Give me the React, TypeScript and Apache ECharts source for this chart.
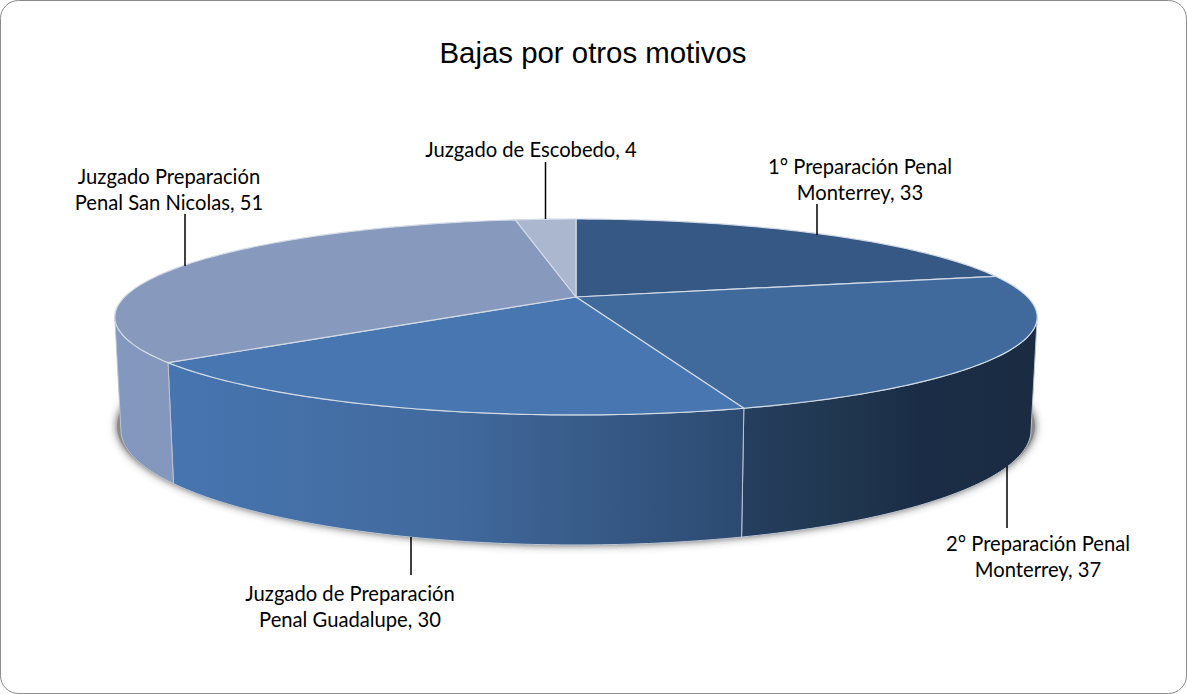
import React, { useEffect, useRef } from "react";
import * as echarts from "echarts";

const categories = [
  "1° Preparación Penal\nMonterrey",
  "2° Preparación Penal\nMonterrey",
  "Juzgado de Preparación\nPenal Guadalupe",
  "Juzgado Preparación\nPenal San Nicolas",
  "Juzgado de Escobedo",
];
const values = [33, 37, 30, 51, 4];
const titleText = "Bajas por otros motivos";

const topColors = ["#355884", "#3f6a9b", "#4776b0", "#879abd", "#abb7cf"];
const sideStops: any[] = [
  null,
  [[0, "#263f5f"], [0.35, "#20364f"], [0.6, "#1b2d46"], [1, "#1a2b42"]],
  [[0, "#4775b0"], [0.5, "#41699d"], [1, "#2c4a70"]],
  [[0, "#8398bf"], [1, "#8497bc"]],
  null,
];
// label centre x, block centre y, leader x, leader y from / to
const labelLayout = [
  { x: 860, y: 179, lx: 817, y1: 204, y2: 235 },
  { x: 1038, y: 556, lx: 1007, y1: 466, y2: 528 },
  { x: 350, y: 606, lx: 411, y1: 537, y2: 575 },
  { x: 169, y: 189, lx: 185, y1: 214, y2: 266 },
  { x: 531, y: 149, lx: 545.5, y1: 162, y2: 219 },
];

const K = 0.204;
const topFace = { cx: 576, cy: 297, a: 451.5, b: 93.9 };
const baseFace = { cx: 576, cy: 406.5, a: 445.5, b: 110.2 };
const project = (f: typeof topFace, deg: number) => {
  const t = (deg * Math.PI) / 180;
  const X = Math.sin(t);
  const Y = -Math.cos(t);
  const w = 1 - K * Y;
  return [f.cx + (f.a * X) / w, f.cy + (f.b * Y) / w];
};
const arc = (f: typeof topFace, from: number, to: number) => {
  const n = Math.max(2, Math.ceil(Math.abs(to - from)));
  const pts: number[][] = [];
  for (let i = 0; i <= n; i++) pts.push(project(f, from + ((to - from) * i) / n));
  return pts;
};
const total = values.reduce((s, v) => s + v, 0);
const startAngle = (i: number) => (values.slice(0, i).reduce((s, v) => s + v, 0) / total) * 360;
const endAngle = (i: number) => (values.slice(0, i + 1).reduce((s, v) => s + v, 0) / total) * 360;
const visFrom = (Math.acos(-K) * 180) / Math.PI;
const visTo = 360 - visFrom;

export default function App() {
  const ref = useRef<HTMLDivElement>(null);
  useEffect(() => {
    document.body.style.margin = "0";
    const chart = echarts.init(ref.current!, null, { renderer: "svg" });
    const indexed = values.map((v, i) => [i, v]);
    chart.setOption({
      animation: false,
      backgroundColor: "#ffffff",
      title: {
        text: titleText,
        left: 588,
        top: 33,
        textAlign: "center",
        textStyle: { fontFamily: "Liberation Sans", fontSize: 29.4, fontWeight: "normal", color: "#000" },
      },
      graphic: [
        {
          type: "rect",
          silent: true,
          z: 0,
          shape: { x: 0.5, y: 0.5, width: 1186, height: 693, r: 18 },
          style: { fill: "#ffffff", stroke: "#8c8c8c", lineWidth: 1 },
        },
      ],
      series: [
        {
          type: "custom",
          coordinateSystem: "none",
          silent: true,
          z: 2,
          data: [[0]],
          renderItem: () => ({
            type: "ellipse",
            shape: { cx: 576, cy: 426, rx: 459, ry: 119 },
            style: { fill: "#8a8a8a", shadowBlur: 8, shadowColor: "rgba(60,60,60,0.9)" },
          }),
        },
        {
          type: "custom",
          coordinateSystem: "none",
          silent: true,
          z: 3,
          data: indexed,
          renderItem: (_p: any, api: any) => {
            const i = api.value(0);
            const from = Math.max(startAngle(i), visFrom);
            const to = Math.min(endAngle(i), visTo);
            if (to <= from || !sideStops[i]) return { type: "group", children: [] };
            const pts = [...arc(topFace, from, to), ...arc(baseFace, to, from)];
            return {
              type: "polygon",
              shape: { points: pts },
              style: {
                fill: new echarts.graphic.LinearGradient(
                  0, 0, 1, 0,
                  sideStops[i].map(([offset, color]: [number, string]) => ({ offset, color })),
                ),
                stroke: "#bcc5d2",
                lineWidth: 1,
              },
            };
          },
        },
        {
          type: "custom",
          coordinateSystem: "none",
          silent: true,
          z: 4,
          data: indexed,
          renderItem: (_p: any, api: any) => {
            const i = api.value(0);
            const pts = [[topFace.cx, topFace.cy], ...arc(topFace, startAngle(i), endAngle(i))];
            return {
              type: "polygon",
              shape: { points: pts },
              style: { fill: topColors[i], stroke: "#d2dae6", lineWidth: 1.2 },
            };
          },
        },
        {
          type: "custom",
          coordinateSystem: "none",
          silent: true,
          z: 5,
          data: indexed,
          renderItem: (_p: any, api: any) => {
            const i = api.value(0);
            const l = labelLayout[i];
            return {
              type: "group",
              children: [
                {
                  type: "line",
                  shape: { x1: l.lx, y1: l.y1, x2: l.lx, y2: l.y2 },
                  style: { stroke: "#000", lineWidth: 1.5 },
                },
                {
                  type: "text",
                  style: {
                    text: `${categories[i]}, ${api.value(1)}`,
                    x: l.x,
                    y: l.y,
                    align: "center",
                    verticalAlign: "middle",
                    font: "20.2px Lato",
                    lineHeight: 26,
                    fill: "#000",
                  },
                },
              ],
            };
          },
        },
      ],
    });
    return () => chart.dispose();
  }, []);
  return <div ref={ref} style={{ width: 1187, height: 694 }} />;
}
